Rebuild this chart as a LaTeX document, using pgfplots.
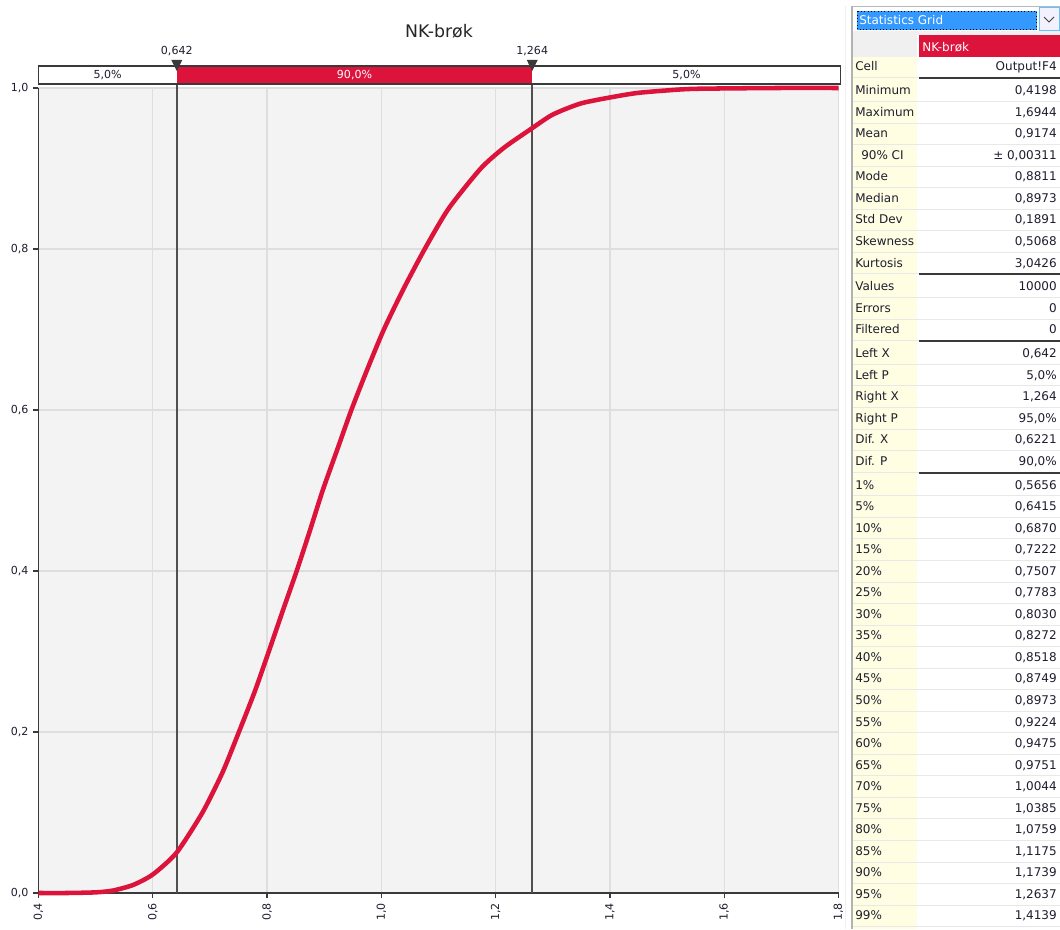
\documentclass[border=0pt]{standalone}
\usepackage{fontspec}
\setmainfont{DejaVu Sans}
\usepackage{pgfplots}
\pgfplotsset{compat=1.18}
\definecolor{crim}{HTML}{DC143C}
\definecolor{plotbg}{HTML}{F3F3F3}
\definecolor{gridc}{HTML}{DEDEDE}
\definecolor{axc}{HTML}{3A3A3A}
\definecolor{vlc}{HTML}{505050}
\definecolor{tickc}{HTML}{1E1E30}
\definecolor{labc}{HTML}{FFFEE3}
\definecolor{selb}{HTML}{3399FF}
\definecolor{sepc}{HTML}{E8E8E8}
\begin{document}
\begin{tikzpicture}[x=0.75pt,y=0.75pt]
\path[use as bounding box] (0,0) rectangle (1060,929);
\fill[white] (0,0) rectangle (1060,929);
\draw[black!6, line width=0.75pt] (845,929-6) -- (845,0);
\begin{axis}[
  at={(28.875pt,27pt)}, anchor=south west,
  scale only axis, width=600pt, height=603.75pt,
  xmin=0.4, xmax=1.8, ymin=0, ymax=1,
  clip=false,
  axis x line*=bottom, axis y line*=left,
  axis line style={axc, line width=1.3pt},
  axis background/.style={fill=plotbg},
  xtick={0.4,0.6,0.8,1.0,1.2,1.4,1.6,1.8},
  ytick={0,0.2,0.4,0.6,0.8,1.0},
  grid=major, major grid style={gridc, line width=0.9pt},
  tick align=outside, major tick length=4pt,
  tick style={axc, line width=0.9pt},
  xticklabel style={rotate=90, anchor=east, font=\fontsize{8.3}{9}\selectfont, text=tickc},
  yticklabel style={font=\fontsize{8.3}{9}\selectfont, text=tickc},
  /pgf/number format/.cd, use comma, fixed, fixed zerofill, precision=1, assume math mode=true,
]
% marker lines
\addplot[vlc, line width=1.2pt, forget plot] coordinates {(0.642,0) (0.642,1.0273)};
\addplot[vlc, line width=1.2pt, forget plot] coordinates {(1.264,0) (1.264,1.0273)};
% CDF
\addplot[crim, line width=3.4pt, smooth, tension=0.4] coordinates {
(0.40,0) (0.45,0) (0.50,0.0008) (0.53,0.003) (0.5656,0.01) (0.60,0.023)
(0.6415,0.05) (0.687,0.10) (0.7222,0.15) (0.7507,0.20) (0.7783,0.25)
(0.803,0.30) (0.8272,0.35) (0.8518,0.40) (0.8749,0.45) (0.8973,0.50)
(0.9224,0.55) (0.9475,0.60) (0.9751,0.65) (1.0044,0.70) (1.0385,0.75)
(1.0759,0.80) (1.1175,0.85) (1.1739,0.90) (1.215,0.926) (1.2637,0.95) (1.30,0.967)
(1.35,0.981) (1.4139,0.99) (1.45,0.994) (1.50,0.997) (1.55,0.999)
(1.6944,1.0) (1.8,1.0)
};
% delimiter bar
\draw[axc, line width=1pt, fill=white] (axis cs:0.4,1.00497) rectangle (axis cs:1.804,1.02733);
\fill[crim] (axis cs:0.642,1.00497) rectangle (axis cs:1.264,1.02733);
\draw[axc, line width=1pt] (axis cs:0.4,1.00497) rectangle (axis cs:1.804,1.02733);
\node[font=\fontsize{8.3}{9}\selectfont, text=tickc] at (axis cs:0.521,1.01615) {5,0\%};
\node[font=\fontsize{8.3}{9}\selectfont, text=white] at (axis cs:0.953,1.01615) {90,0\%};
\node[font=\fontsize{8.3}{9}\selectfont, text=tickc] at (axis cs:1.534,1.01615) {5,0\%};
\fill[axc] ([xshift=-4.1pt]axis cs:0.642,1.0348) -- ([xshift=4.1pt]axis cs:0.642,1.0348) -- (axis cs:0.642,1.0211) -- cycle;
\fill[axc] ([xshift=-4.1pt]axis cs:1.264,1.0348) -- ([xshift=4.1pt]axis cs:1.264,1.0348) -- (axis cs:1.264,1.0211) -- cycle;
\node[font=\fontsize{8.3}{9}\selectfont, text=tickc, anchor=base] at (axis cs:0.642,1.0413) {0,642};
\node[font=\fontsize{8.3}{9}\selectfont, text=tickc, anchor=base] at (axis cs:1.264,1.0413) {1,264};
\end{axis}
% title
\node[anchor=base, font=\fontsize{13}{15}\selectfont, text=black!85] at (439,929-37.7) {NK-brøk};
% ---- statistics grid ----
\draw[gray!55, line width=0.75pt] (851.5,929-6.5) -- (1060,929-6.5);
\draw[gray!60, line width=1.5pt] (851.5,929-6.5) -- (851.5,0);
\fill[selb] (857,929-11) rectangle (1037,929-30);
\draw[black, dotted, line width=0.5pt] (857.5,929-11.5) rectangle (1036.5,929-29.5);
\node[anchor=base west, inner sep=0pt, font=\fontsize{9}{10}\selectfont, text=white] at (859,929-25) {Statistics Grid};
\fill[blue!5] (1039,929-8) rectangle (1059,929-31);
\draw[blue!40!cyan!60, line width=0.75pt] (1039,929-8) rectangle (1059,929-31);
\draw[black!75, line width=0.75pt] (1044,929-17) -- (1049,929-22) -- (1054,929-17);
\fill[black!6] (852.5,929-31) rectangle (1060,929-35.5);
\fill[black!6] (853,929-35.5) rectangle (917,929-57);
\fill[crim] (919,929-35.5) rectangle (1060,929-57);
\node[anchor=base west, inner sep=0pt, font=\fontsize{9}{10}\selectfont, text=white] at (922,929-51.5) {NK-brøk};
\fill[labc] (853,929-57) rectangle (917,0);
\foreach \lab/\val [count=\i] in {
Cell/{Output!F4}, Minimum/{0,4198}, Maximum/{1,6944}, Mean/{0,9174},
{\hspace*{4.5pt}90\% CI}/{± 0,00311}, Mode/{0,8811}, Median/{0,8973},
Std Dev/{0,1891}, Skewness/{0,5068}, Kurtosis/{3,0426},
Values/{10000}, Errors/{0}, Filtered/{0},
Left X/{0,642}, Left P/{5,0\%}, Right X/{1,264}, Right P/{95,0\%},
Dif. X/{0,6221}, Dif. P/{90,0\%},
1\%/{0,5656}, 5\%/{0,6415}, 10\%/{0,6870}, 15\%/{0,7222}, 20\%/{0,7507},
25\%/{0,7783}, 30\%/{0,8030}, 35\%/{0,8272}, 40\%/{0,8518}, 45\%/{0,8749},
50\%/{0,8973}, 55\%/{0,9224}, 60\%/{0,9475}, 65\%/{0,9751}, 70\%/{1,0044},
75\%/{1,0385}, 80\%/{1,0759}, 85\%/{1,1175}, 90\%/{1,1739}, 95\%/{1,2637},
99\%/{1,4139}} {
  \pgfmathsetmacro\bl{71+(\i-1)*21.54+2.2*((\i>1)+(\i>10)+(\i>13)+(\i>19))}
  \pgfmathsetmacro\sy{929-\bl-6.8}
  \draw[sepc, line width=0.75pt] (853,\sy) -- (1060,\sy);
  \node[anchor=base west, inner sep=0pt, font=\fontsize{9}{10}\selectfont, text=tickc] at (855,929-\bl) {\lab};
  \node[anchor=base east, inner sep=0pt, font=\fontsize{9}{10}\selectfont, text=tickc] at (1057,929-\bl) {\val};
}
\foreach \i in {1,10,13,19} {
  \pgfmathsetmacro\bl{71+(\i-1)*21.54+2.2*((\i>1)+(\i>10)+(\i>13)+(\i>19))}
  \pgfmathsetmacro\sy{929-\bl-7.3}
  \draw[axc, line width=1.5pt] (919,\sy) -- (1060,\sy);
}
\end{tikzpicture}
\end{document}
